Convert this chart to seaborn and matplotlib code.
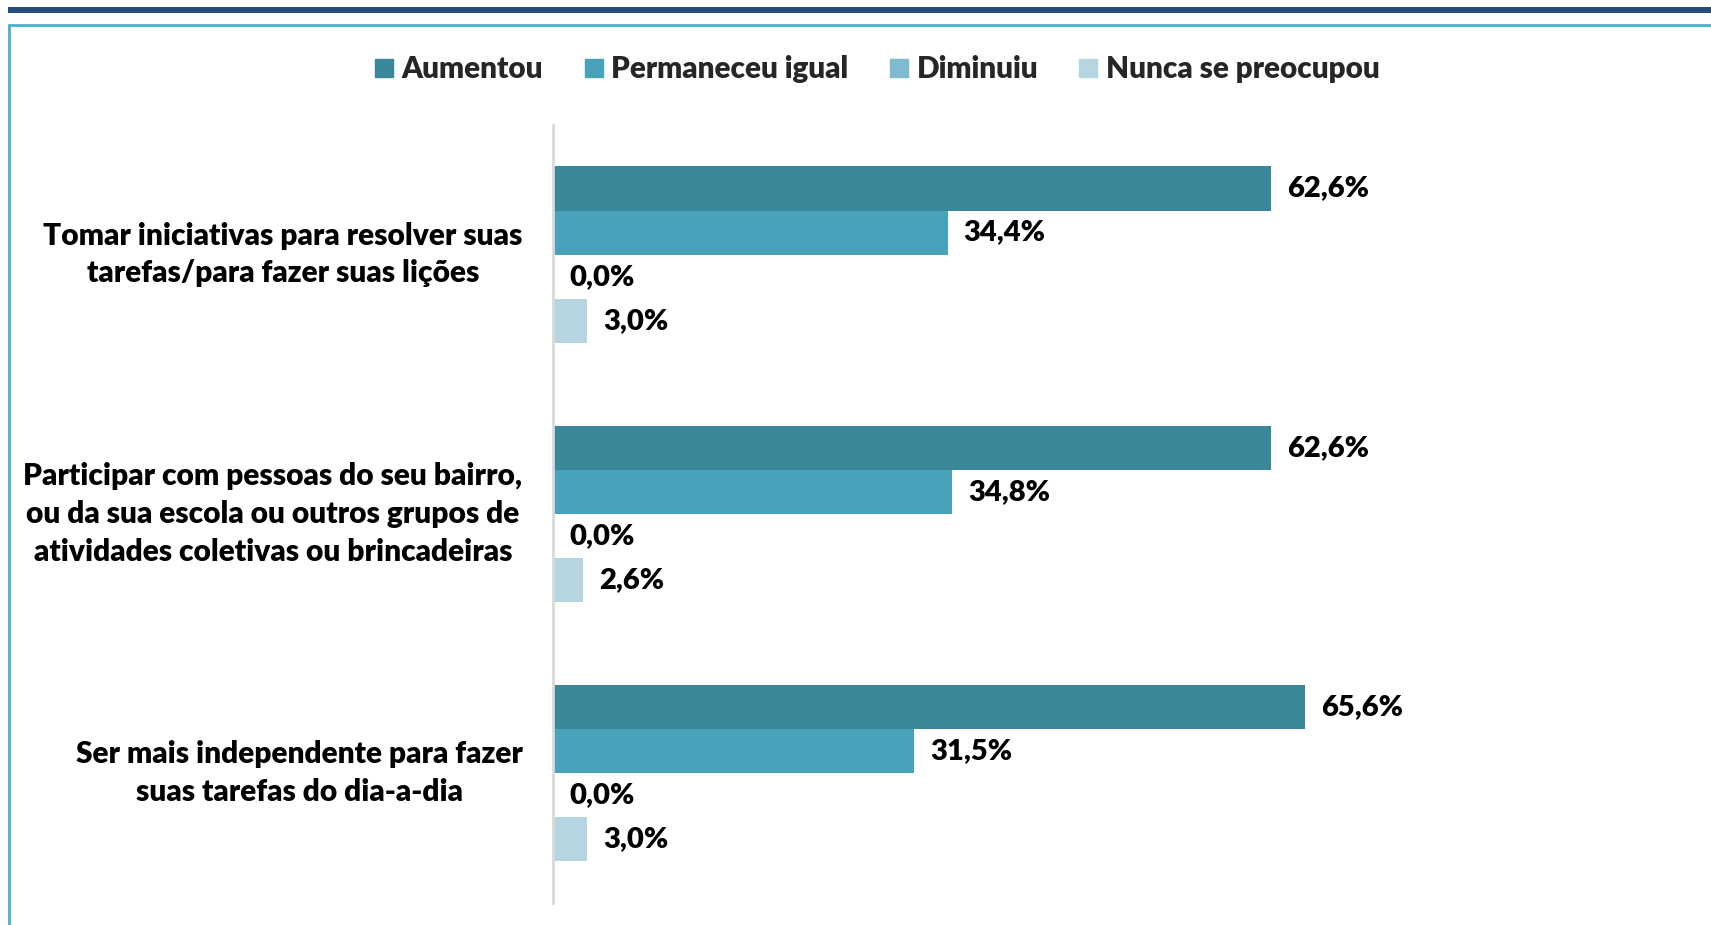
import matplotlib
matplotlib.use("Agg")
import matplotlib.pyplot as plt
from matplotlib.lines import Line2D
from matplotlib.patches import Rectangle
import seaborn as sns
import pandas as pd

# Survey items (y axis)
items = [
    "Tomar iniciativas para resolver suas\ntarefas/para fazer suas lições",
    "Participar com pessoas do seu bairro,\nou da sua escola ou outros grupos de\natividades coletivas ou brincadeiras",
    "Ser mais independente para fazer\nsuas tarefas do dia-a-dia",
]
# Response categories (legend)
responses = ["Aumentou", "Permaneceu igual", "Diminuiu", "Nunca se preocupou"]
# Percentages per item, one list per response
aumentou = [62.6, 62.6, 65.6]
permaneceu = [34.4, 34.8, 31.5]
diminuiu = [0.0, 0.0, 0.0]
nunca = [3.0, 2.6, 3.0]

colors = ["#3A8799", "#48A2BA", "#7FBACF", "#B5D5E0"]

rows = []
for resp, vals in zip(responses, [aumentou, permaneceu, diminuiu, nunca]):
    for item, v in zip(items, vals):
        rows.append({"item": item, "resposta": resp, "pct": v})
df = pd.DataFrame(rows)

sns.set_theme(style="white")
plt.rcParams["font.family"] = ["Lato", "DejaVu Sans"]
plt.rcParams["font.weight"] = "heavy"

fig = plt.figure(figsize=(17.11, 9.25), dpi=100)
ax = fig.add_axes([0.3232, 0.0238, 0.5363, 0.8411])

sns.barplot(
    data=df, y="item", x="pct", hue="resposta",
    order=items, hue_order=responses, palette=colors,
    orient="h", width=0.68, linewidth=0, saturation=1,
    legend=False, ax=ax,
)

for cont in ax.containers:
    labels = [f"{b.get_width():.1f}%".replace(".", ",") for b in cont]
    ax.bar_label(cont, labels=labels, padding=11.5, fontsize=21,
                 fontweight="heavy", color="black")

ax.set_xlim(0, 80)
ax.set_ylim(2.5, -0.5)
ax.set_xlabel("")
ax.set_ylabel("")
ax.set_xticks([])
for s in ["top", "right", "bottom"]:
    ax.spines[s].set_visible(False)
ax.spines["left"].set_color("#D9D9D9")
ax.spines["left"].set_linewidth(2)
ax.tick_params(axis="y", length=0, pad=22)
for lab in ax.get_yticklabels():
    lab.set_fontsize(21.5)
    lab.set_fontweight("heavy")
    lab.set_color("black")
    lab.set_multialignment("center")
    lab.set_linespacing(1.42)
    lab.set_verticalalignment("center")

# Legend across the top
handles = [Line2D([], [], marker="s", linestyle="none", markersize=12.5,
                  markerfacecolor=c, markeredgecolor=c) for c in colors]
fig.legend(handles, responses, loc="center", bbox_to_anchor=(0.512, 0.925),
           ncol=4, frameon=False, handletextpad=0.2,
           columnspacing=1.3, handlelength=0.8,
           prop={"weight": "heavy", "size": 21.3})

# Page decoration: dark band and framed panel
fig.add_artist(Rectangle((8 / 1711, 1 - 13 / 925), 1, 6 / 925,
                         transform=fig.transFigure, color="#244C7E", lw=0))
fig.add_artist(Line2D([8.5 / 1711, 1], [1 - 25 / 925, 1 - 25 / 925],
                      transform=fig.transFigure, color="#4BB0C8", lw=2))
fig.add_artist(Line2D([9 / 1711, 9 / 1711], [0, 1 - 25 / 925],
                      transform=fig.transFigure, color="#4BB0C8", lw=2))

fig.savefig("out.png", dpi=100)
